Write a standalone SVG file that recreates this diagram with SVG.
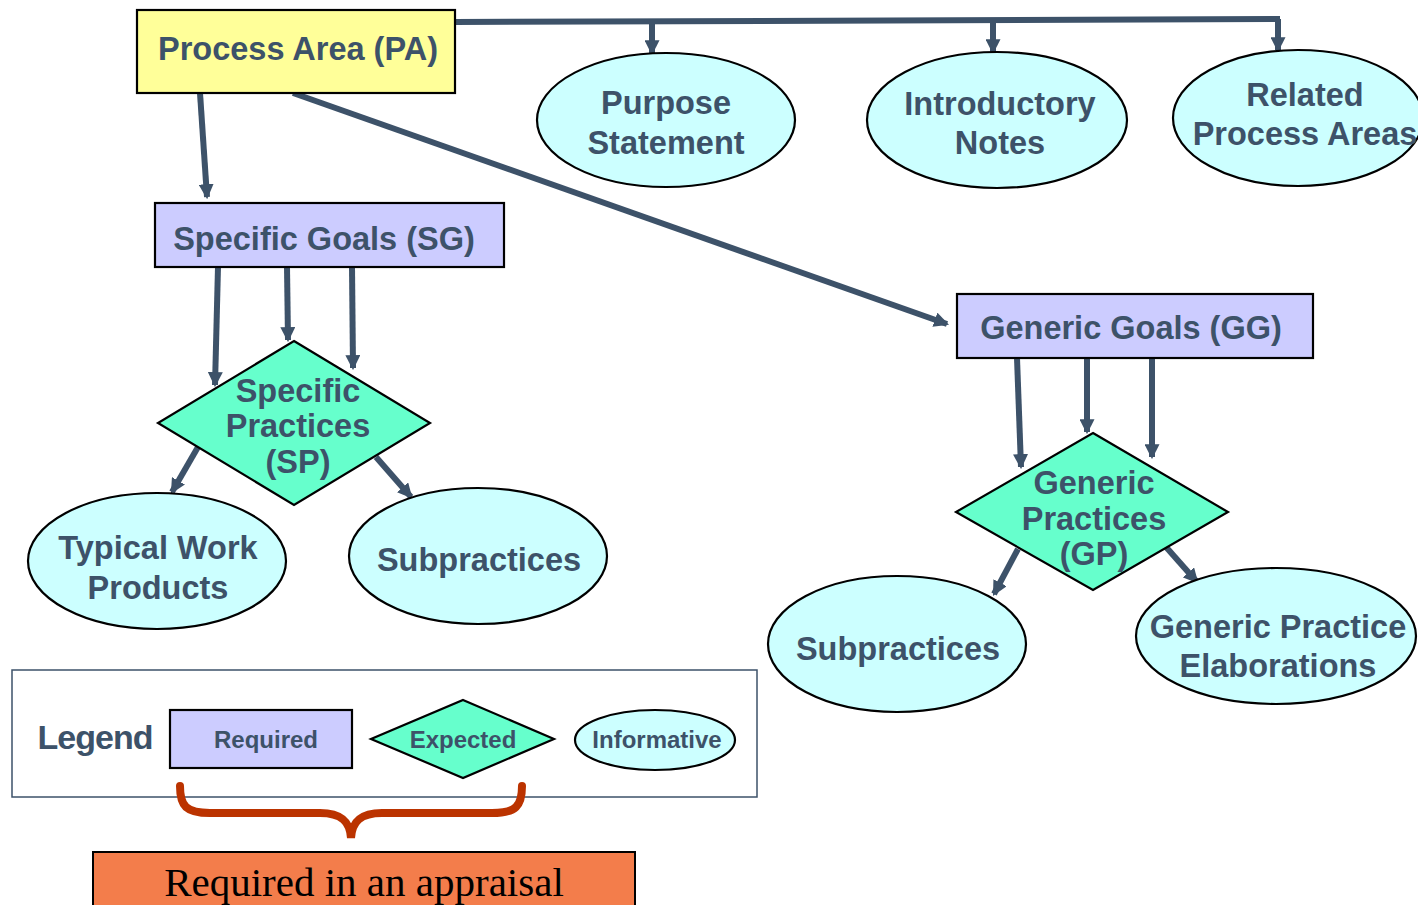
<svg xmlns="http://www.w3.org/2000/svg" width="1418" height="905" viewBox="0 0 1418 905">
<style>
.t{font-family:"Liberation Sans",Arial,sans-serif;font-weight:bold;fill:#3d5269;text-anchor:middle}
.big{font-size:32.5px}
.sm{font-size:24px}
.box{stroke:#000;stroke-width:2.2}
.req{fill:#ccccff}
.exp{fill:#66ffcc}
.inf{fill:#ccffff}
.con{stroke:#3d5269;stroke-width:6;fill:none}
</style>
<defs>
<marker id="ah" markerUnits="userSpaceOnUse" viewBox="0 0 14 14" refX="12" refY="7" markerWidth="15" markerHeight="15" orient="auto">
<path d="M0,0 L14,7 L0,14 Z" fill="#3d5269"/>
</marker>
</defs>
<g id="connectors">
<path class="con" d="M455,22 L1280,19"/>
<path class="con" d="M652,21 L652,53" marker-end="url(#ah)"/>
<path class="con" d="M993,20 L993,52" marker-end="url(#ah)"/>
<path class="con" d="M1278,19 L1278,50" marker-end="url(#ah)"/>
<path class="con" d="M200,93 L207,197" marker-end="url(#ah)"/>
<path class="con" d="M293,93 L947,324" marker-end="url(#ah)"/>
<path class="con" d="M218,267 L215,385" marker-end="url(#ah)"/>
<path class="con" d="M287,267 L288,340" marker-end="url(#ah)"/>
<path class="con" d="M352,267 L353,368" marker-end="url(#ah)"/>
<path class="con" d="M198,447 L172,492" marker-end="url(#ah)"/>
<path class="con" d="M376,457 L411,497" marker-end="url(#ah)"/>
<path class="con" d="M1017,358 L1021,467" marker-end="url(#ah)"/>
<path class="con" d="M1087,358 L1087,432" marker-end="url(#ah)"/>
<path class="con" d="M1152,358 L1152,457" marker-end="url(#ah)"/>
<path class="con" d="M1018,549 L994,594" marker-end="url(#ah)"/>
<path class="con" d="M1166,547 L1197,582" marker-end="url(#ah)"/>
</g>
<g id="pa">
<rect class="box" x="137" y="10" width="318" height="83" fill="#ffff99"/>
<text class="t big" x="298" y="60">Process Area (PA)</text>
</g>
<g id="purpose">
<ellipse class="box inf" cx="666" cy="120" rx="129" ry="67"/>
<text class="t big" x="666" y="114">Purpose</text>
<text class="t big" x="666" y="154">Statement</text>
</g>
<g id="intro">
<ellipse class="box inf" cx="997" cy="120" rx="130" ry="68"/>
<text class="t big" x="1000" y="115">Introductory</text>
<text class="t big" x="1000" y="154">Notes</text>
</g>
<g id="related">
<ellipse class="box inf" cx="1298" cy="118" rx="125" ry="68"/>
<text class="t big" x="1305" y="106">Related</text>
<text class="t big" x="1305" y="145">Process Areas</text>
</g>
<g id="sg">
<rect class="box req" x="155" y="203" width="349" height="64"/>
<text class="t big" x="324" y="250">Specific Goals (SG)</text>
</g>
<g id="sp">
<polygon class="box exp" points="294,341 430,423 294,505 158,423"/>
<text class="t big" x="298" y="402">Specific</text>
<text class="t big" x="298" y="437">Practices</text>
<text class="t big" x="298" y="473">(SP)</text>
</g>
<g id="twp">
<ellipse class="box inf" cx="157" cy="561" rx="129" ry="68"/>
<text class="t big" x="158" y="559">Typical Work</text>
<text class="t big" x="158" y="599">Products</text>
</g>
<g id="subsp">
<ellipse class="box inf" cx="478" cy="556" rx="129" ry="68"/>
<text class="t big" x="479" y="571">Subpractices</text>
</g>
<g id="gg">
<rect class="box req" x="957" y="294" width="356" height="64"/>
<text class="t big" x="1131" y="339">Generic Goals (GG)</text>
</g>
<g id="gp">
<polygon class="box exp" points="1093,433 1228,512 1093,590 956,512"/>
<text class="t big" x="1094" y="494">Generic</text>
<text class="t big" x="1094" y="530">Practices</text>
<text class="t big" x="1094" y="565">(GP)</text>
</g>
<g id="subgp">
<ellipse class="box inf" cx="897" cy="644" rx="129" ry="68"/>
<text class="t big" x="898" y="660">Subpractices</text>
</g>
<g id="gpe">
<ellipse class="box inf" cx="1276" cy="636" rx="140" ry="68"/>
<text class="t big" x="1278" y="638">Generic Practice</text>
<text class="t big" x="1278" y="677">Elaborations</text>
</g>
<g id="legend">
<rect x="12" y="670" width="745" height="127" fill="#fff" stroke="#3d5269" stroke-width="1.5"/>
<text class="t" x="95" y="749" font-size="34" style="letter-spacing:-1px">Legend</text>
<rect class="box req" x="170" y="710" width="182" height="58"/>
<text class="t sm" x="266" y="748">Required</text>
<polygon class="box exp" points="463,700 554,739 463,778 371,739"/>
<text class="t sm" x="463" y="748">Expected</text>
<ellipse class="box inf" cx="655" cy="740" rx="80" ry="30"/>
<text class="t sm" x="657" y="748">Informative</text>
</g>
<g id="brace">
<path d="M180,786 C180,806 186,813 210,813 L320,813 C342,813 350,822 351,838 C352,822 360,813 382,813 L492,813 C516,813 522,806 522,786" fill="none" stroke="#bb3300" stroke-width="8" stroke-linecap="round"/>
</g>
<g id="appraisal">
<rect x="93" y="852" width="542" height="60" fill="#f37d4b" stroke="#000" stroke-width="2"/>
<text x="364" y="896" font-family="'Liberation Serif','Times New Roman',serif" font-size="41" text-anchor="middle" fill="#000">Required in an appraisal</text>
</g>
</svg>
